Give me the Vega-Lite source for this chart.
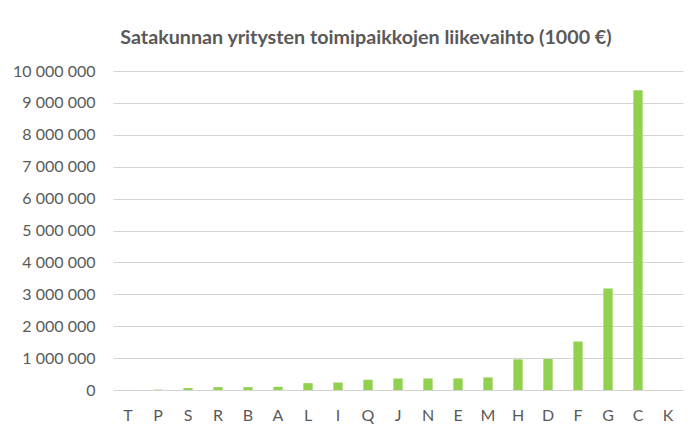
{
  "$schema": "https://vega.github.io/schema/vega-lite/v6.json",
  "autosize": "none",
  "width": 570,
  "height": 319,
  "padding": {"left": 113, "top": 71, "right": 16, "bottom": 43},
  "background": "white",
  "title": {
    "text": "Satakunnan yritysten toimipaikkojen liikevaihto (1000 €)",
    "font": "Lato",
    "fontSize": 19.7,
    "fontWeight": "bold",
    "color": "#595959",
    "anchor": "middle",
    "baseline": "alphabetic",
    "offset": 24,
    "dx": -32,
    "dy": 25
  },
  "data": {
    "values": [
      {"toimiala": "T", "liikevaihto": 3000},
      {"toimiala": "P", "liikevaihto": 12000},
      {"toimiala": "S", "liikevaihto": 60000},
      {"toimiala": "R", "liikevaihto": 90000},
      {"toimiala": "B", "liikevaihto": 92000},
      {"toimiala": "A", "liikevaihto": 100000},
      {"toimiala": "L", "liikevaihto": 215000},
      {"toimiala": "I", "liikevaihto": 235000},
      {"toimiala": "Q", "liikevaihto": 320000},
      {"toimiala": "J", "liikevaihto": 360000},
      {"toimiala": "N", "liikevaihto": 362000},
      {"toimiala": "E", "liikevaihto": 364000},
      {"toimiala": "M", "liikevaihto": 395000},
      {"toimiala": "H", "liikevaihto": 960000},
      {"toimiala": "D", "liikevaihto": 970000},
      {"toimiala": "F", "liikevaihto": 1520000},
      {"toimiala": "G", "liikevaihto": 3180000},
      {"toimiala": "C", "liikevaihto": 9400000},
      {"toimiala": "K", "liikevaihto": 0}
    ]
  },
  "mark": {"type": "bar", "color": "#92D050"},
  "encoding": {
    "x": {
      "field": "toimiala",
      "type": "nominal",
      "sort": null,
      "scale": {"paddingInner": 0.69},
      "axis": {
        "title": null,
        "labelAngle": 0,
        "ticks": false,
        "domain": false,
        "labelPadding": 17,
        "labelFont": "Lato",
        "labelFontSize": 16,
        "labelColor": "#595959"
      }
    },
    "y": {
      "field": "liikevaihto",
      "type": "quantitative",
      "scale": {"domain": [0, 10000000]},
      "axis": {
        "title": null,
        "values": [0, 1000000, 2000000, 3000000, 4000000, 5000000, 6000000, 7000000, 8000000, 9000000, 10000000],
        "format": ",d",
        "ticks": false,
        "domain": false,
        "labelPadding": 18,
        "labelFont": "Lato",
        "labelFontSize": 16,
        "labelColor": "#595959",
        "gridColor": "#D4D4D4",
        "gridWidth": 1
      }
    }
  },
  "config": {
    "view": {"stroke": null},
    "locale": {
      "number": {
        "decimal": ",",
        "thousands": " ",
        "grouping": [3],
        "currency": ["", " €"]
      }
    }
  }
}
